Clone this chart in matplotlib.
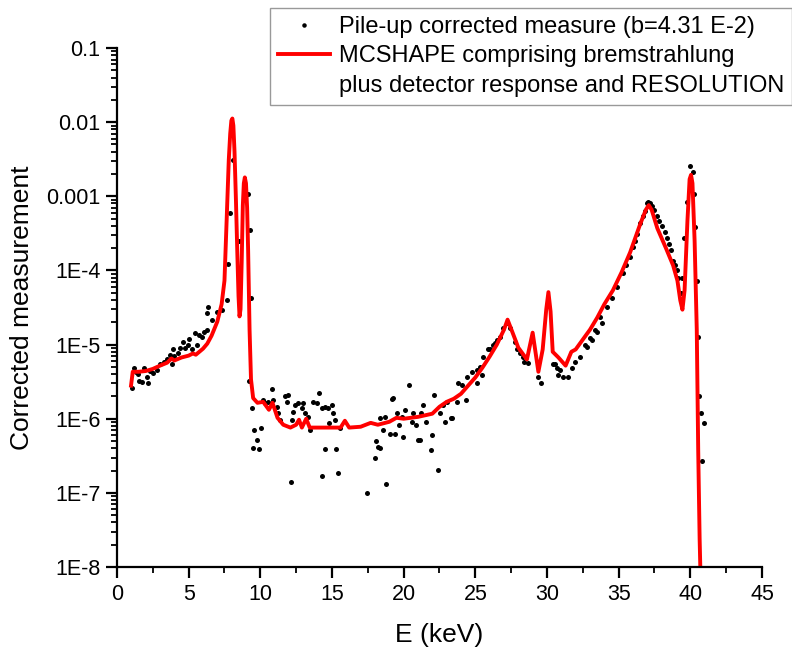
import matplotlib
matplotlib.use("Agg")
import matplotlib.pyplot as plt
from matplotlib.lines import Line2D
from matplotlib.ticker import FixedLocator, FixedFormatter, LogLocator, MultipleLocator, NullFormatter

plt.rcParams['font.family'] = ['Liberation Sans', 'DejaVu Sans']

# MCSHAPE simulation (red line), E in keV
sim_e = [0.98, 1.1, 1.5, 2.0, 2.5, 3.0, 3.5, 3.8, 4.0, 4.5, 5.0, 5.3, 5.5, 6.0, 6.3, 6.6,
         7.0, 7.3, 7.5, 7.65, 7.8, 7.9, 7.98, 8.05, 8.12, 8.2, 8.3, 8.4, 8.48, 8.55, 8.62,
         8.7, 8.78, 8.85, 8.92, 9.0, 9.08, 9.15, 9.25, 9.35, 9.5, 9.8, 10.2, 10.6, 10.85,
         11.2, 11.6, 12.1, 12.5, 12.7, 12.9, 13.2, 13.45, 14.0, 15.0, 15.6, 15.9, 16.2,
         17.0, 17.7, 18.2, 19.0, 19.5, 20.0, 20.5, 21.0, 22.0, 22.5, 23.0, 23.5, 24.0,
         24.5, 25.0, 25.5, 26.0, 26.5, 27.0, 27.25, 27.6, 28.0, 28.6, 29.0, 29.4, 29.7,
         29.95, 30.1, 30.25, 30.4, 30.8, 31.3, 31.7, 32.0, 32.5, 33.0, 33.5, 34.0, 34.6,
         35.2, 35.8, 36.5, 36.9, 37.1, 37.3, 37.7, 38.3, 38.8, 39.1, 39.3, 39.45, 39.6,
         39.8, 39.95, 40.05, 40.15, 40.3, 40.45, 40.55, 40.65, 40.72]
sim_y = [2.8e-6, 4.3e-6, 4.3e-6, 4.4e-6, 4.7e-6, 5.2e-6, 5.7e-6, 6.5e-6, 6.1e-6, 6.7e-6,
         7.1e-6, 7.6e-6, 7.3e-6, 8.8e-6, 1.03e-5, 1.32e-5, 2.04e-5, 3.5e-5, 7.3e-5, 4.7e-4,
         3.1e-3, 7.0e-3, 1.05e-2, 1.12e-2, 9.0e-3, 4.0e-3, 8.8e-4, 1.6e-4, 4.5e-5, 2.4e-5,
         3.0e-5, 1.3e-4, 7.5e-4, 1.5e-3, 1.8e-3, 1.5e-3, 7.0e-4, 1.86e-4, 1.59e-5, 3.4e-6,
         1.9e-6, 1.64e-6, 1.69e-6, 1.32e-6, 1.64e-6, 1.03e-6, 8.3e-7, 7.6e-7, 8.3e-7,
         9.7e-7, 7.6e-7, 1.0e-6, 7.6e-7, 7.6e-7, 7.6e-7, 7.6e-7, 9.4e-7, 7.6e-7, 7.8e-7,
         8.8e-7, 8.3e-7, 9.1e-7, 1.03e-6, 1.0e-6, 1.03e-6, 1.06e-6, 1.17e-6, 1.45e-6,
         1.69e-6, 1.86e-6, 2.17e-6, 2.8e-6, 3.6e-6, 4.9e-6, 6.9e-6, 1.0e-5, 1.59e-5,
         2.17e-5, 1.45e-5, 9.1e-6, 6.3e-6, 1.45e-5, 4.3e-6, 8.6e-6, 3.0e-5, 5.1e-5, 2.8e-5,
         8.0e-6, 6.7e-6, 5.2e-6, 8.0e-6, 8.6e-6, 1.17e-5, 1.59e-5, 2.3e-5, 3.5e-5, 5.4e-5,
         9.4e-5, 1.75e-4, 4.2e-4, 6.6e-4, 7.6e-4, 6.6e-4, 3.7e-4, 2.0e-4, 1.17e-4, 7.3e-5,
         3.95e-5, 2.96e-5, 5.4e-5, 4.7e-4, 1.7e-3, 1.95e-3, 1.5e-3, 2.5e-4, 1.59e-5,
         3.8e-7, 2.4e-8, 6.5e-9]

# pile-up corrected measurement (black dots)
meas_e = [1.05, 1.19, 1.3, 1.47, 1.54, 1.74, 1.88, 2.09, 2.14, 2.3, 2.51, 2.79, 3.0, 3.3,
          3.49, 3.7, 3.84, 3.91, 4.0, 4.26, 4.4, 4.61, 4.75, 4.95, 5.0, 5.23, 5.44, 5.58,
          5.7, 5.93, 6.1, 6.28, 6.3, 6.35, 6.63, 6.98, 7.33, 7.68, 7.75, 7.89, 8.09, 8.51,
          9.14, 9.21, 9.28, 9.35,
          9.42, 9.49, 9.56, 9.77, 9.91, 10.05, 10.19, 10.33, 10.54, 10.82, 10.89, 11.17,
          11.24, 11.37, 11.72, 11.86, 11.93, 12.14, 12.21, 12.28, 12.42, 12.63, 12.91,
          12.98, 13.12, 13.33, 13.47, 13.68, 13.96, 14.1, 14.31, 14.31, 14.52, 14.52, 14.72,
          14.8, 15.0, 15.07, 15.2, 15.28, 15.42, 15.56, 17.45, 18.0, 18.08, 18.21, 18.35,
          18.35, 18.56, 18.7, 18.75, 19.05, 19.2, 19.26, 19.4, 19.54, 19.68, 19.89, 19.96,
          20.1, 20.38, 20.59, 20.66, 20.87, 21.0, 21.14, 21.21, 21.35, 21.56, 21.9, 21.98,
          22.12, 22.4, 22.54, 22.75, 22.89, 23.03, 23.31, 23.38,
          23.73, 23.8, 24.08, 24.35, 24.42, 24.77, 25.12, 25.15, 25.33, 25.47, 25.54,
          25.89, 26.03, 26.24, 26.38, 26.52, 26.73, 26.94, 27.22, 27.42, 27.77, 27.91,
          28.12, 28.33, 28.4, 28.68, 29.38, 29.59, 30.43, 30.57, 30.7, 30.77, 30.91, 31.12,
          31.47, 31.75, 31.96, 32.31, 32.66, 32.8, 33.01, 33.15, 33.36, 33.5, 33.71, 33.84,
          34.19, 34.54, 34.89, 35.31, 35.5, 35.8, 36.0, 36.15, 36.3, 36.5, 36.7, 36.85,
          37.0, 37.06, 37.2, 37.33, 37.5, 37.68, 37.85, 38.03, 38.2, 38.38, 38.5, 38.66,
          38.8, 38.95, 39.08, 39.15, 39.36, 39.43, 39.57, 39.78, 39.99, 40.19, 40.26,
          40.33, 40.47, 40.54, 40.61, 40.75, 40.82, 40.96]
meas_y = [2.6e-6, 4.9e-6, 4.3e-6, 4.0e-6, 3.2e-6, 3.1e-6, 4.9e-6, 3.6e-6, 3.0e-6, 4.4e-6,
          4.2e-6, 4.6e-6, 5.4e-6, 5.9e-6, 6.3e-6, 7.3e-6, 5.4e-6, 8.6e-6, 7.0e-6, 7.8e-6,
          8.9e-6, 1.1e-5, 9.1e-6, 1.0e-5, 1.2e-5, 8.6e-6, 1.45e-5, 1.0e-5, 1.35e-5, 1.28e-5,
          1.5e-5, 1.59e-5, 2.7e-5, 3.25e-5, 2.17e-5, 2.78e-5, 2.96e-5, 3.95e-5, 1.24e-4,
          5.9e-4, 3.1e-3, 2.5e-4, 1.09e-3, 3.2e-6, 3.5e-4, 4.2e-5,
          1.41e-6, 4.07e-7, 7.1e-7, 5.2e-7, 3.9e-7, 7.6e-7, 1.8e-6, 1.64e-6, 1.69e-6,
          2.54e-6, 1.8e-6, 1.45e-6, 1.2e-6, 9.7e-7, 2.04e-6, 1.69e-6, 2.1e-6, 1.42e-7,
          9.7e-7, 1.24e-6, 1.55e-6, 1.64e-6, 1.41e-6, 1.64e-6, 1.2e-6, 1.06e-6, 7.1e-7,
          1.69e-6, 1.64e-6, 2.24e-6, 1.41e-6, 1.7e-7, 1.45e-6, 3.9e-7, 1.41e-6, 8.8e-7,
          1.55e-6, 1.2e-6, 9.7e-7, 3.9e-7, 1.87e-7, 7.6e-7, 1.0e-7, 3.0e-7, 5.05e-7, 4.2e-7,
          1.03e-6, 4.07e-7, 7.1e-7, 1.06e-6, 1.33e-7, 6.3e-7, 1.86e-6, 1.92e-6, 6.3e-7,
          1.2e-6, 8.3e-7, 1.06e-6, 5.7e-7, 1.32e-6, 2.87e-6, 9.1e-7, 1.2e-6, 8.3e-7, 5.2e-7,
          5.2e-7, 1.2e-6, 1.55e-6, 9.1e-7, 3.8e-7, 6.1e-7, 2.1e-6, 2.05e-7, 1.2e-6, 1.55e-6,
          9.1e-7, 1.69e-6, 1.03e-6, 1.03e-6,
          1.69e-6, 3.0e-6, 2.87e-6, 1.8e-6, 3.6e-6, 4.3e-6, 4.6e-6, 3.0e-6, 5.05e-6, 3.9e-6,
          6.9e-6, 8.6e-6, 8.6e-6, 1.0e-5, 1.06e-5, 1.17e-5, 1.28e-5, 1.69e-5, 1.98e-5,
          1.69e-5, 1.1e-5, 8.6e-6, 7.8e-6, 6.7e-6, 5.9e-6, 5.7e-6, 3.7e-6, 3.0e-6, 5.4e-6,
          5.4e-6, 4.9e-6, 3.9e-6, 4.6e-6, 3.7e-6, 3.7e-6, 4.9e-6, 5.9e-6, 6.7e-6, 1.0e-5,
          9.4e-6, 1.24e-5, 1.17e-5, 1.59e-5, 1.5e-5, 2.38e-5, 1.98e-5, 3.25e-5, 4.2e-5,
          5.9e-5, 9.1e-5, 1.2e-4, 1.5e-4, 2.1e-4, 2.5e-4, 3.1e-4, 4.4e-4, 5.5e-4, 6.4e-4,
          8.1e-4, 8.3e-4, 8.2e-4, 7.5e-4, 6.6e-4, 5.5e-4, 4.7e-4, 4.0e-4, 3.3e-4, 2.7e-4,
          2.3e-4, 1.86e-4, 1.36e-4, 1.2e-4, 1.0e-4, 8.0e-5, 4.9e-5, 7.8e-5, 2.7e-4, 8.3e-4,
          2.6e-3, 2.1e-3, 1.09e-3, 3.8e-4, 7.3e-5, 1.28e-5, 2.04e-6, 1.2e-6, 2.7e-7, 8.8e-7]

ytick_vals = [1e-8, 1e-7, 1e-6, 1e-5, 1e-4, 1e-3, 1e-2, 1e-1]
ytick_labels = ['1E-8', '1E-7', '1E-6', '1E-5', '1E-4', '0.001', '0.01', '0.1']

fig = plt.figure(figsize=(7.92, 6.49), dpi=100)
ax = fig.add_axes([0.1477, 0.1263, 0.8144, 0.7997])

ax.plot(meas_e, meas_y, 'o', color='black', markersize=3.6, markeredgewidth=0,
        label='Pile-up corrected measure (b=4.31 E-2)')
ax.plot(sim_e, sim_y, color='#ff0000', linewidth=2.8,
        label='MCSHAPE comprising bremstrahlung')

ax.set_yscale('log')
ax.set_xlim(0, 45)
ax.set_ylim(1e-8, 0.1)

ax.yaxis.set_major_locator(FixedLocator(ytick_vals))
ax.yaxis.set_major_formatter(FixedFormatter(ytick_labels))
ax.yaxis.set_minor_locator(LogLocator(base=10, subs=range(2, 10)))
ax.yaxis.set_minor_formatter(NullFormatter())
ax.xaxis.set_major_locator(MultipleLocator(5))
ax.xaxis.set_minor_locator(MultipleLocator(2.5))

for side in ['top', 'right']:
    ax.spines[side].set_visible(False)
for side in ['left', 'bottom']:
    ax.spines[side].set_linewidth(1.6)

ax.tick_params(which='major', direction='out', length=8, width=1.6, labelsize=15.5, pad=4)
ax.tick_params(which='minor', direction='out', length=4.5, width=1.3)

ax.set_xlabel('E (keV)', fontsize=19, labelpad=13)
ax.set_ylabel('Corrected measurement', fontsize=19, labelpad=9)

# third row of the legend carries the second line of the MCSHAPE label
blank = Line2D([], [], color='none')
handles, labels = ax.get_legend_handles_labels()
handles.append(blank)
labels.append('plus detector response and RESOLUTION')
leg = fig.legend(handles, labels, loc='upper left', bbox_to_anchor=(270 / 792, 1 - 8 / 649),
                 fontsize=17, frameon=True, fancybox=False, edgecolor='#808080',
                 borderpad=0.33, borderaxespad=0, labelspacing=0.32, handlelength=2.2,
                 handletextpad=0.4, numpoints=1, markerscale=0.9)
leg.get_frame().set_linewidth(1.0)

fig.savefig('out.png', dpi=100)
